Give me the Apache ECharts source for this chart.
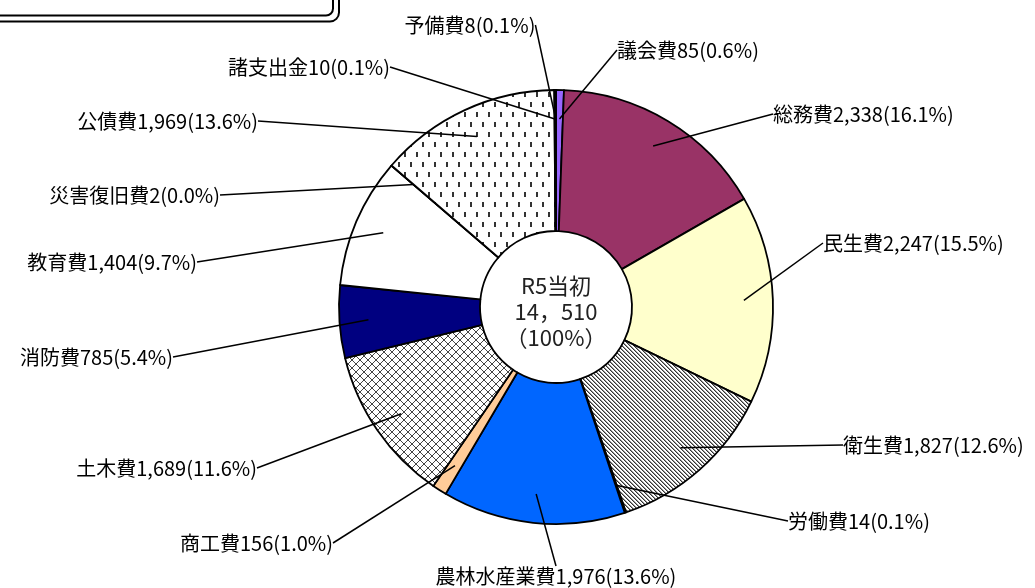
<!DOCTYPE html>
<html>
<head>
<meta charset="utf-8">
<script src="https://cdn.jsdelivr.net/npm/echarts@6/dist/echarts.min.js"></script>
<style>
html,body{margin:0;padding:0;background:#fff;}
#main{width:1035px;height:588px;}
</style>
</head>
<body>
<div id="main"></div>
<script>
// ---- data ----
const categories = ['議会費','総務費','民生費','衛生費','労働費','農林水産業費','商工費','土木費','消防費','教育費','災害復旧費','公債費','諸支出金','予備費'];
const values = [85, 2338, 2247, 1827, 14, 1976, 156, 1689, 785, 1404, 2, 1969, 10, 8];
const pctLabels = ['0.6','16.1','15.5','12.6','0.1','13.6','1.0','11.6','5.4','9.7','0.0','13.6','0.1','0.1'];
const centerTitle = 'R5当初';
const centerPct = '（100%）';

// ---- layout / style ----
const CENTER = [556, 307];
const TEXT_CENTER = [556, 312];
const FONT = '"Noto Sans CJK JP", "Noto Sans", sans-serif';
const LABEL_PAD = 8;
// label anchor positions: [x, y, align]
const labelPos = [
  [617, 50, 'left'],
  [773, 114, 'left'],
  [823, 243, 'left'],
  [843, 445, 'left'],
  [788, 521, 'left'],
  [556, 576, 'center'],
  [333, 543, 'right'],
  [257, 468, 'right'],
  [173, 357, 'right'],
  [197, 262, 'right'],
  [220, 195, 'right'],
  [258, 121, 'right'],
  [390, 67, 'right'],
  [470, 25, 'center']
];

function tile(w, h, draw) {
  const c = document.createElement('canvas');
  c.width = w; c.height = h;
  const g = c.getContext('2d');
  g.fillStyle = '#fff'; g.fillRect(0, 0, w, h);
  draw(g);
  return c;
}
const hatch = tile(4, 4, g => {
  for (let i = 0; i < 4; i++) {
    g.fillStyle = '#333'; g.fillRect(i, i, 1, 1);
    g.fillStyle = '#999'; g.fillRect((i + 1) % 4, i, 1, 1);
  }
});
const cross = tile(8, 8, g => {
  g.fillStyle = '#444';
  for (let i = 0; i < 8; i++) { g.fillRect(i, i, 1, 1); g.fillRect(7 - i, i, 1, 1); }
});
const dots = tile(12, 20, g => {
  g.fillStyle = '#333';
  g.fillRect(2, 2, 2, 5);
  g.fillRect(8, 12, 2, 5);
});
const pat = c => ({ image: c, repeat: 'repeat' });

const fills = ['#9966FF', '#993366', '#FFFFCC', pat(hatch), '#000000', '#0066FF', '#FFCC99',
               pat(cross), '#000080', '#FFFFFF', '#000000', pat(dots), '#000000', '#000000'];

const total = values.reduce((a, b) => a + b, 0);
const totalText = String(total).replace(/\B(?=(\d{3})+(?!\d))/g, '，');
const fmt = v => String(v).replace(/\B(?=(\d{3})+(?!\d))/g, ',');

const pieData = categories.map((n, i) => ({ name: n, value: values[i], itemStyle: { color: fills[i] } }));
const labelData = categories.map((n, i) => ({ name: n, value: values[i] }));

const chart = echarts.init(document.getElementById('main'), null, { renderer: 'canvas' });
chart.setOption({
  backgroundColor: '#fff',
  animation: false,
  graphic: [
    { type: 'rect', shape: { x: -20, y: -60, width: 359, height: 81.5, r: 9 },
      style: { fill: 'none', stroke: '#000', lineWidth: 2 }, silent: true },
    { type: 'rect', shape: { x: -20, y: -60, width: 353, height: 75.5, r: 7 },
      style: { fill: 'none', stroke: '#000', lineWidth: 2 }, silent: true }
  ],
  series: [
    {
      type: 'pie',
      z: 2,
      center: CENTER,
      radius: [76, 217],
      startAngle: 90,
      clockwise: true,
      silent: true,
      avoidLabelOverlap: false,
      label: { show: false },
      labelLine: { show: false },
      itemStyle: { borderColor: '#000', borderWidth: 1.8 },
      emphasis: { disabled: true },
      data: pieData
    },
    {
      type: 'pie',
      z: 5,
      center: CENTER,
      radius: [0, 188],
      startAngle: 90,
      clockwise: true,
      silent: true,
      avoidLabelOverlap: false,
      itemStyle: { color: 'transparent', borderWidth: 0 },
      emphasis: { disabled: true },
      label: {
        show: true,
        position: 'outside',
        color: '#000',
        fontFamily: FONT,
        fontSize: 20,
        padding: [2, LABEL_PAD],
        formatter: p => p.name + fmt(p.value) + '(' + pctLabels[p.dataIndex] + '%)'
      },
      labelLine: { show: true, length: 10, length2: 0, lineStyle: { color: '#000', width: 1.5 } },
      labelLayout: p => {
        const lp = labelPos[p.dataIndex];
        let x = lp[0];
        if (lp[2] === 'left') x -= LABEL_PAD;
        if (lp[2] === 'right') x += LABEL_PAD;
        return { x: x, y: lp[1], align: lp[2], verticalAlign: 'middle' };
      },
      data: labelData
    },
    {
      type: 'pie',
      z: 6,
      center: TEXT_CENTER,
      radius: [0, 1],
      silent: true,
      itemStyle: { color: 'transparent' },
      emphasis: { disabled: true },
      label: {
        show: true,
        position: 'center',
        color: '#222',
        fontFamily: FONT,
        fontSize: 22,
        lineHeight: 26,
        formatter: () => centerTitle + '\n' + totalText + '\n' + centerPct
      },
      labelLine: { show: false },
      data: [{ name: 'total', value: total }]
    }
  ]
});
</script>
</body>
</html>
